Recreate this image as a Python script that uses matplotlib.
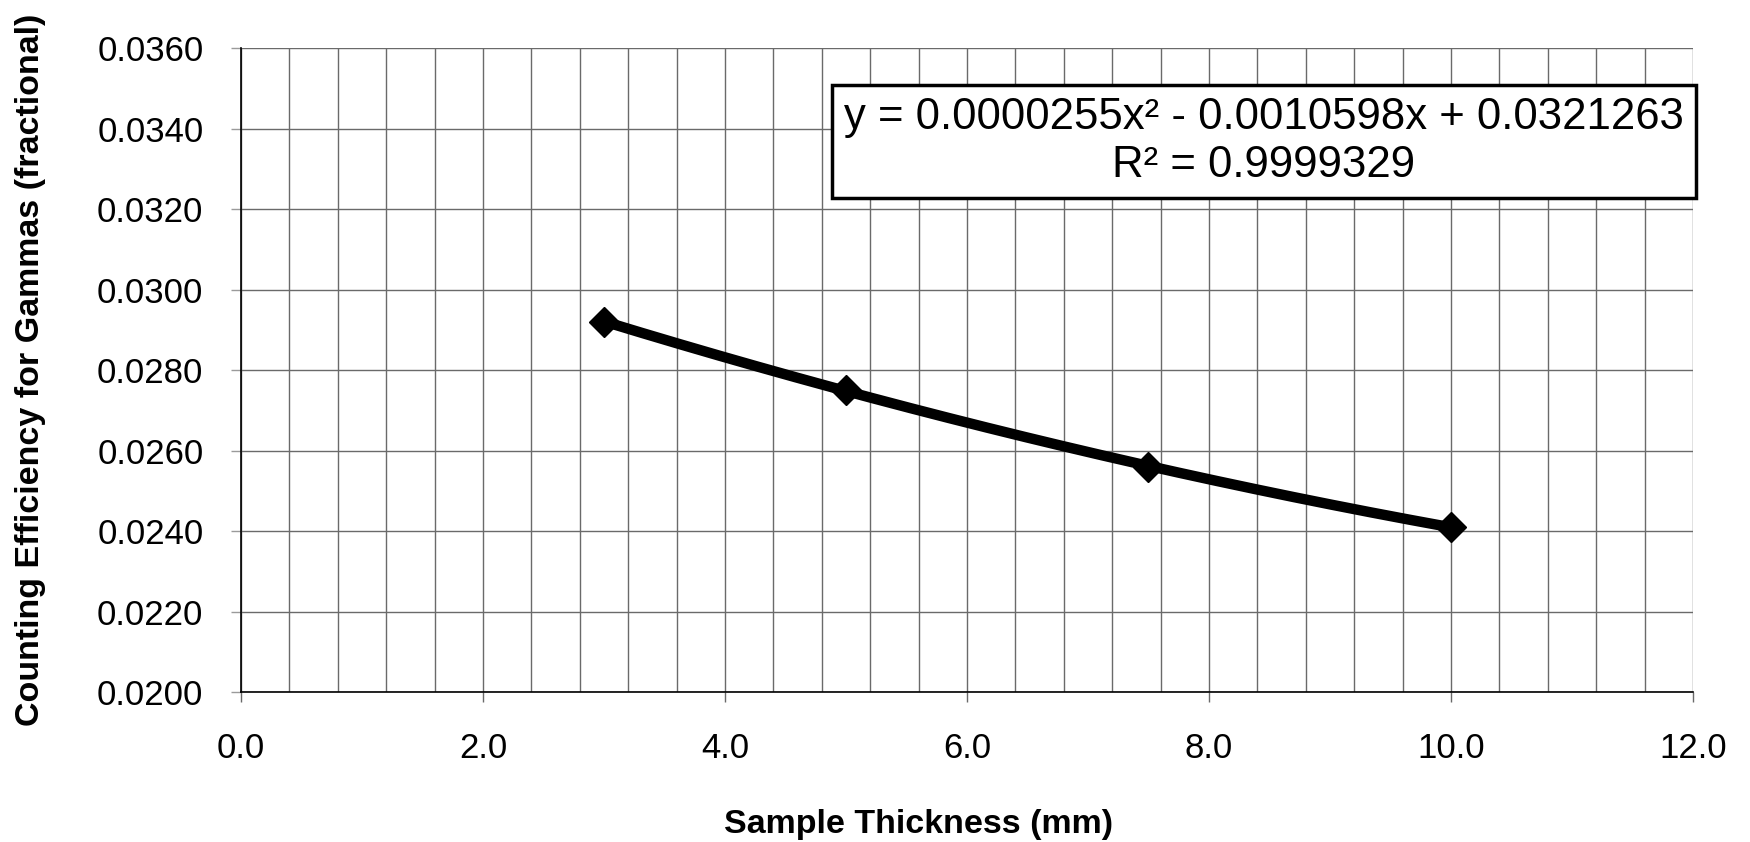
import numpy as np
import matplotlib
matplotlib.use("Agg")
import matplotlib.pyplot as plt
from matplotlib.ticker import MultipleLocator, FormatStrFormatter

plt.rcParams["font.family"] = ["Liberation Sans", "DejaVu Sans"]

# data
thickness = [3.0, 5.0, 7.5, 10.0]
efficiency = [0.0292, 0.0275, 0.0256, 0.0241]
eq_text = "y = 0.0000255x² - 0.0010598x + 0.0321263\nR² = 0.9999329"
x_label = "Sample Thickness (mm)"
y_label = "Counting Efficiency for Gammas (fractional)"

fig = plt.figure(figsize=(17.5, 8.42), dpi=100)
ax = fig.add_axes([0.1377, 0.178, 0.8297, 0.765])

# 2nd order poly trendline through the points
coef = np.polyfit(thickness, efficiency, 2)
xs = np.linspace(min(thickness), max(thickness), 200)
ax.plot(xs, np.polyval(coef, xs), color="black", lw=7.5, solid_capstyle="butt", zorder=3)
ax.plot(thickness, efficiency, ls="none", marker="D", ms=15, color="black", zorder=4)

ax.set_xlim(0, 12)
ax.set_ylim(0.020, 0.036)
ax.xaxis.set_major_locator(MultipleLocator(2.0))
ax.xaxis.set_minor_locator(MultipleLocator(0.4))
ax.yaxis.set_major_locator(MultipleLocator(0.002))
ax.xaxis.set_major_formatter(FormatStrFormatter("%.1f"))
ax.yaxis.set_major_formatter(FormatStrFormatter("%.4f"))

ax.grid(which="major", color="#6a6a6a", lw=1.0)
ax.grid(which="minor", axis="x", color="#6a6a6a", lw=1.0)
ax.set_axisbelow(True)

for s in ["top", "right"]:
    ax.spines[s].set_visible(False)
for s in ["left", "bottom"]:
    ax.spines[s].set_color("black")
    ax.spines[s].set_linewidth(1.2)

ax.tick_params(axis="x", which="major", direction="out", length=7, width=1, color="#6a6a6a",
               labelsize=25, pad=22)
ax.tick_params(axis="x", which="minor", length=0)
ax.tick_params(axis="y", direction="out", length=7, width=1, color="#9a9a9a",
               labelsize=25, pad=20)

ax.set_xlabel(x_label, fontsize=24.5, fontweight="bold", va="center")
ax.set_ylabel(y_label, fontsize=24.5, fontweight="bold", va="center")
ax.xaxis.set_label_coords(0.4667, -0.205)
ax.yaxis.set_label_coords(-0.1453, 0.5)

fig.text(0.7223, 0.832, eq_text, ha="center", va="center", fontsize=31.5,
         multialignment="center", linespacing=1.2,
         bbox=dict(boxstyle="square,pad=0.28", facecolor="white", edgecolor="black", linewidth=2.5))

fig.savefig("out.png", dpi=100)
